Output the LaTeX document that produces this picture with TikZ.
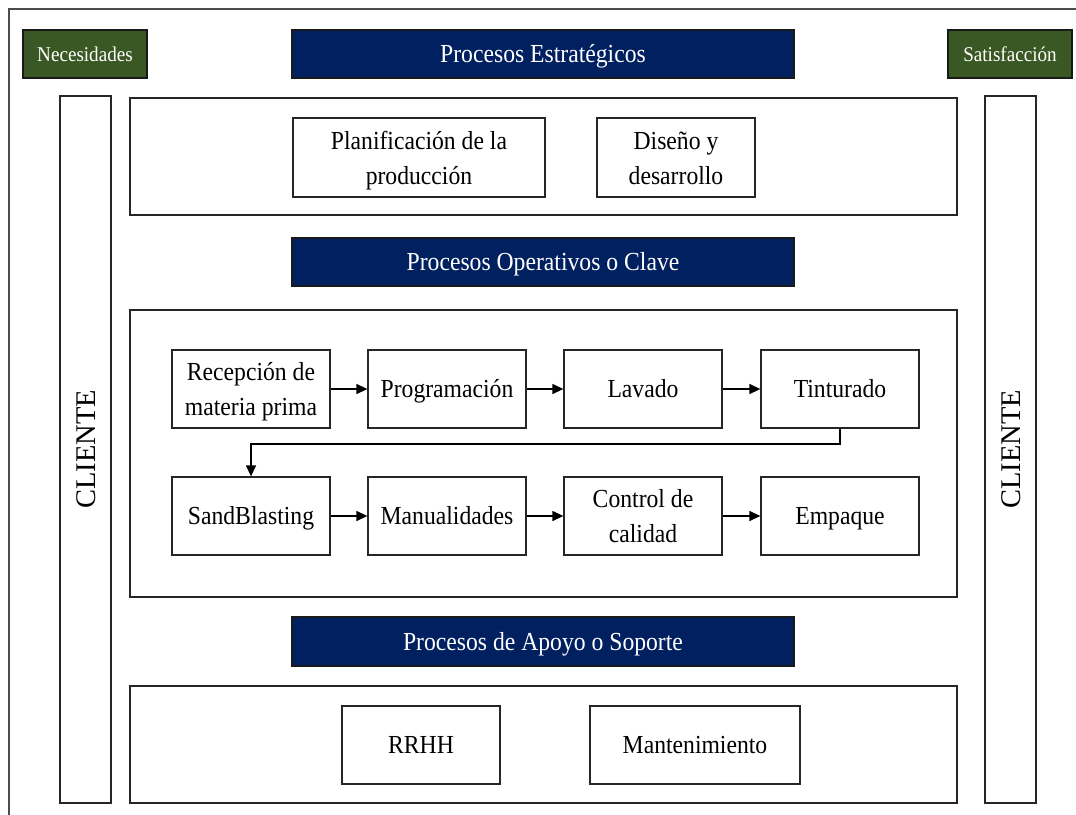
\documentclass[tikz,border=0pt]{standalone}
\usepackage{fontspec}
\setmainfont{Liberation Serif}[FakeStretch=0.91]
\newfontfamily\widefont{Liberation Serif}
\usetikzlibrary{arrows.meta}
\definecolor{navy}{HTML}{002060}
\definecolor{leaf}{HTML}{3A5824}
\tikzset{
  box/.style={draw=black!85, line width=1.3pt, fill=white, align=center,
    font=\fontsize{26}{35}\selectfont, inner sep=0pt,
    text height=17.5pt, text depth=0pt},
  one/.style={},
  two/.style={text height=53.5pt},
  title/.style={draw=black!90, line width=1.3pt, fill=navy, text=white,
    font=\fontsize{26}{30}\selectfont, inner sep=0pt,
    text height=17.5pt, text depth=0pt},
  tag/.style={draw=black!90, line width=1.3pt, fill=leaf, text=white,
    font=\fontsize{21}{24}\selectfont, inner sep=0pt,
    text height=14pt, text depth=0pt},
  side/.style={rotate=90, font=\widefont\fontsize{28.5}{30}\selectfont,
    inner sep=0pt, text height=19pt, text depth=0pt},
  flow/.style={draw=black, line width=1.3pt, -{Triangle[length=11pt,width=10pt]}},
}
\begin{document}
\begin{tikzpicture}[x=1pt,y=-1pt]
\useasboundingbox (0,0) rectangle (1076,814);
% outer frame (open to the right and bottom)
\draw[draw=black!70, line width=1.2pt] (9,820) -- (9,9) -- (1080,9);

% side columns
\node[box, minimum width=51pt, minimum height=707pt] (cl) at (85.5,449.5) {};
\node[side] (clt) at (cl.center) {CLIENTE};
\node[box, minimum width=51pt, minimum height=707pt] (cr) at (1010.5,449.5) {};
\node[side] (crt) at (cr.center) {CLIENTE};

% corner tags
\node[tag, minimum width=124pt, minimum height=48pt] (nec) at (85,54) {Necesidades};
\node[tag, minimum width=124pt, minimum height=48pt] (sat) at (1010,54) {Satisfacción};

% strategic processes
\node[title, minimum width=502pt, minimum height=48pt] (tE) at (543,54) {Procesos Estratégicos};
\node[box, minimum width=827pt, minimum height=117pt] (gE) at (543.5,156.5) {};
\node[box, two, minimum width=252pt, minimum height=79pt] (plan) at (419,157.5) {Planificación de la\\producción};
\node[box, two, minimum width=158pt, minimum height=79pt] (dis) at (676,157.5) {Diseño y\\desarrollo};

% operative processes
\node[title, minimum width=502pt, minimum height=48pt] (tO) at (543,262) {Procesos Operativos o Clave};
\node[box, minimum width=827pt, minimum height=287pt] (gO) at (543.5,453.5) {};
\foreach \n/\x/\s/\t in {r1/251/two/{Recepción de\\materia prima}, r2/447/one/Programación,
                         r3/643/one/Lavado, r4/840/one/Tinturado}
  \node[box, \s, minimum width=158pt, minimum height=78pt] (\n) at (\x,389) {\t};
\foreach \n/\x/\s/\t in {s1/251/one/SandBlasting, s2/447/one/Manualidades,
                         s3/643/two/{Control de\\calidad}, s4/840/one/Empaque}
  \node[box, \s, minimum width=158pt, minimum height=78pt] (\n) at (\x,516) {\t};
\draw[flow] (r1) -- (r2);
\draw[flow] (r2) -- (r3);
\draw[flow] (r3) -- (r4);
\coordinate (k1) at (840,444);
\coordinate (k2) at (251,444);
\draw[flow] (r4.south) -- (k1) -- (k2) -- (s1.north);
\draw[flow] (s1) -- (s2);
\draw[flow] (s2) -- (s3);
\draw[flow] (s3) -- (s4);

% support processes
\node[title, minimum width=502pt, minimum height=49pt] (tA) at (543,641.5) {Procesos de Apoyo o Soporte};
\node[box, minimum width=827pt, minimum height=117pt] (gA) at (543.5,744.5) {};
\node[box, minimum width=158pt, minimum height=78pt] (rrhh) at (421,745) {RRHH};
\node[box, minimum width=210pt, minimum height=78pt] (mant) at (695,745) {Mantenimiento};
\end{tikzpicture}
\end{document}
